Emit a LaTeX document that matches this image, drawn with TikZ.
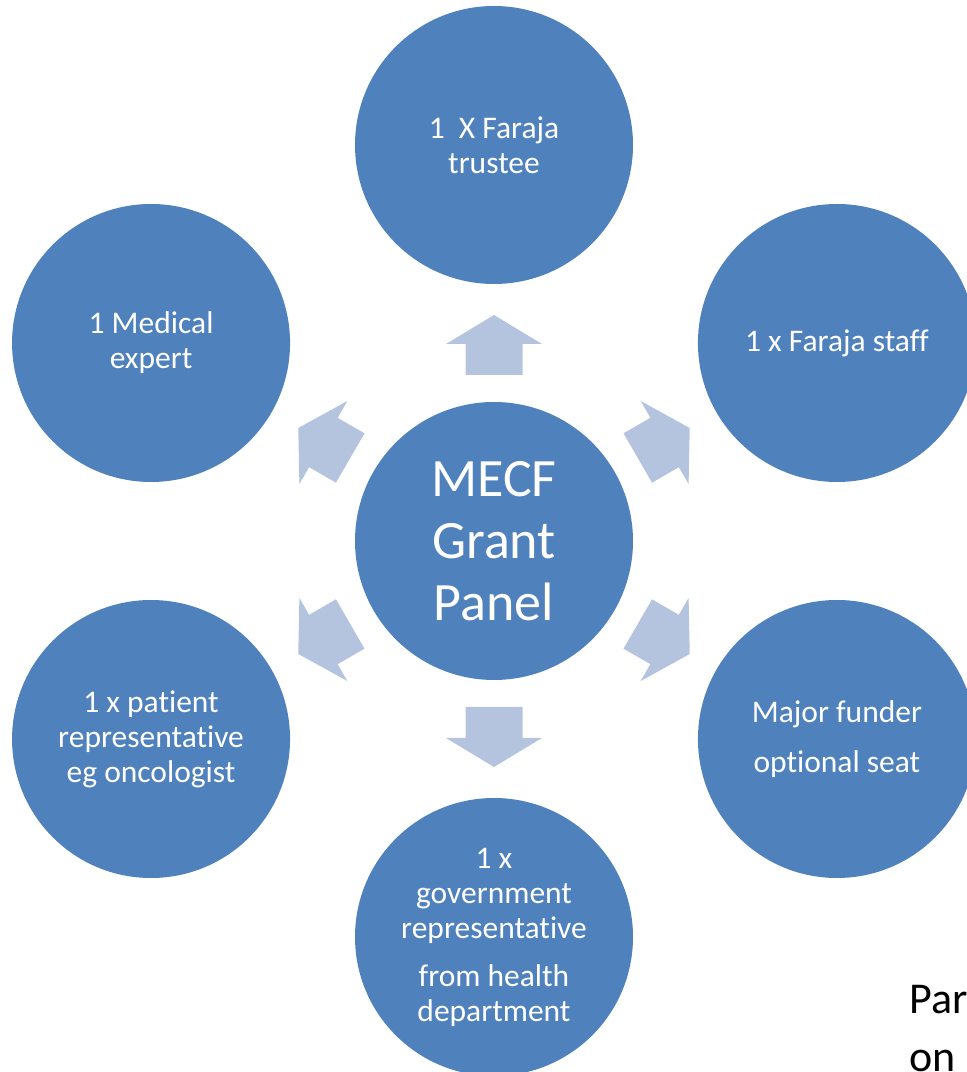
\documentclass[tikz,border=0pt]{standalone}
\usepackage{fontspec}
\setmainfont{Carlito}[Ligatures=NoCommon]
\usetikzlibrary{calc}
\definecolor{panelblue}{HTML}{4F81BD}
\definecolor{spokeblue}{HTML}{B4C4DF}
\tikzset{
  member/.style={circle, fill=panelblue, draw=none, minimum size=278pt, inner sep=0pt,
    text=white, align=center, font=\fontsize{31.5}{35}\selectfont},
  hub/.style={member, font=\fontsize{54}{62}\selectfont},
  spoke/.style={fill=spokeblue, draw=none},
  note/.style={anchor=base west, inner sep=0pt, text=black, font=\fontsize{44}{57}\selectfont}
}
% block arrow pointing outward along the local x axis
\newcommand{\spokearrow}{%
  \fill[spoke] (166,-28.5) -- (197,-28.5) -- (197,-48) -- (226,0) -- (197,48)
    -- (197,28.5) -- (166,28.5) -- cycle;}
\begin{document}
\begin{tikzpicture}[x=1pt,y=1pt]
  \useasboundingbox (0,0) rectangle (967,1072);
  \clip (0,0) rectangle (967,1072);

  % central panel
  \node[hub] (hub) at (494,531) {MECF\\Grant\\Panel};

  % members around the panel
  \node[member] (trustee) at ($(hub.center)+(90:396)$) {1\ \ X Faraja\\trustee};
  \node[member] (staff)   at ($(hub.center)+(30:396)$) {1 x Faraja staff};
  \node[member] (funder)  at ($(hub.center)+(-30:396)$) {Major funder\\[15pt]optional seat};
  \node[member] (govt)    at ($(hub.center)+(-90:396)$)
    {1 x\\government\\representative\\[13pt]from health\\department};
  \node[member] (patient) at ($(hub.center)+(-150:396)$) {1 x patient\\representative\\eg oncologist};
  \node[member] (medical) at ($(hub.center)+(150:396)$) {1 Medical\\expert};

  % arrows from the panel towards each member
  \foreach \ang in {90,30,-30,-90,-150,150}{
    \begin{scope}[shift={(hub.center)}, rotate=\ang]
      \spokearrow
    \end{scope}
  }

  % side note running off the page
  \node[note] (notea) at (909,58) {Par};
  \node[note] (noteb) at (909,1) {on};
\end{tikzpicture}
\end{document}
